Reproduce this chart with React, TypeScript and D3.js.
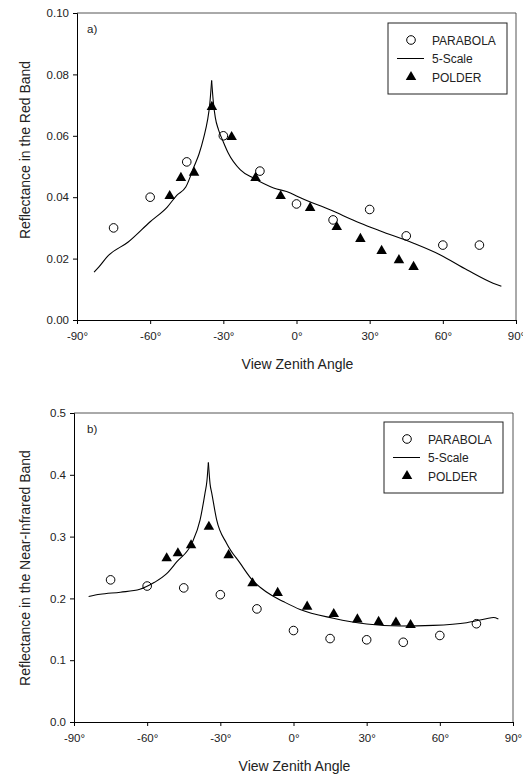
import React, { useRef, useEffect } from 'react'
import * as d3 from 'd3'

// view zenith angles (deg)
const parabolaAngles = [-75, -60, -45, -30, -15, 0, 15, 30, 45, 60, 75]
const polderAngles = [-52, -47.4, -42, -34.7, -26.6, -16.8, -6.5, 5.6, 16.5, 26.2, 34.9, 42, 48]

// a) red band
const redParabola = [0.030, 0.040, 0.0515, 0.060, 0.0485, 0.0378, 0.0326, 0.036, 0.0274, 0.0244, 0.0244]
const redPolder = [0.0404, 0.0463, 0.048, 0.0694, 0.0596, 0.0463, 0.0404, 0.0365, 0.0303, 0.0264, 0.0225, 0.0195, 0.0173]
const redModelAngles = [-83, -81, -77.4, -69, -60, -53, -49, -45.4, -42, -40, -38, -36.5, -35.6, -34.8, -34.1, -33.3, -32, -30, -28, -23, -17.6, -9.4, -2.5, 0, 14, 26, 34.4, 48, 59, 70, 80.6, 84]
const redModel = [0.0156, 0.0173, 0.0208, 0.0254, 0.032, 0.0368, 0.0407, 0.0433, 0.050, 0.054, 0.0596, 0.065, 0.070, 0.078, 0.071, 0.066, 0.062, 0.058, 0.0544, 0.0489, 0.0462, 0.043, 0.0414, 0.0404, 0.0358, 0.0316, 0.029, 0.025, 0.0212, 0.0163, 0.012, 0.011]

// b) near-infrared band
const nirParabola = [0.230, 0.220, 0.217, 0.206, 0.183, 0.148, 0.135, 0.133, 0.129, 0.140, 0.159]
const nirPolder = [0.265, 0.273, 0.286, 0.316, 0.270, 0.2244, 0.209, 0.1866, 0.1748, 0.166, 0.162, 0.161, 0.157]
const nirModelAngles = [-84, -79.3, -71, -63, -57, -52, -47.9, -41.7, -38.3, -36.3, -35.5, -34.9, -34.2, -33.5, -31.5, -27.4, -21.9, -16.5, -13.7, -9, -4.2, 2.7, 16.3, 30, 43.6, 57.3, 71, 79, 82, 84]
const nirModel = [0.203, 0.2066, 0.21, 0.2147, 0.226, 0.240, 0.259, 0.289, 0.327, 0.37, 0.39, 0.42, 0.385, 0.37, 0.327, 0.289, 0.257, 0.228, 0.218, 0.205, 0.195, 0.182, 0.168, 0.1586, 0.1553, 0.1564, 0.1607, 0.167, 0.169, 0.1667]

const xTicks = [-90, -60, -30, 0, 30, 60, 90]
const redTicks = [0, 0.02, 0.04, 0.06, 0.08, 0.1]
const nirTicks = [0, 0.1, 0.2, 0.3, 0.4, 0.5]
const legendLabels = ['PARABOLA', '5-Scale', 'POLDER']

const font = 'Arial, "Liberation Sans", sans-serif'

function App() {
  const svgRef = useRef(null)

  useEffect(() => {
    const svg = d3.select(svgRef.current)
    svg.selectAll('*').remove()

    const panels = [
      {
        tag: 'a)', title: 'Reflectance in the Red Band',
        x0: 77, x1: 516, yTop: 13, yBot: 320, ymax: 0.1, ticks: redTicks, fmt: d3.format('.2f'),
        parabola: redParabola, polder: redPolder, mAngles: redModelAngles, model: redModel,
        legend: { x: 388, y: 23 }, titleY: 150
      },
      {
        tag: 'b)', title: 'Reflectance in the Near-Infrared Band',
        x0: 74, x1: 513, yTop: 413, yBot: 722, ymax: 0.5, ticks: nirTicks, fmt: d3.format('.1f'),
        parabola: nirParabola, polder: nirPolder, mAngles: nirModelAngles, model: nirModel,
        legend: { x: 384, y: 422 }, titleY: 568
      }
    ]

    panels.forEach(p => {
      const x = d3.scaleLinear().domain([-90, 90]).range([p.x0, p.x1])
      const y = d3.scaleLinear().domain([0, p.ymax]).range([p.yBot, p.yTop])
      const g = svg.append('g').style('font-family', font)

      // frame (top / right)
      g.append('line').attr('x1', p.x0).attr('x2', p.x1).attr('y1', p.yTop).attr('y2', p.yTop)
        .attr('stroke', '#555').attr('stroke-width', 1)
      g.append('line').attr('x1', p.x1).attr('x2', p.x1).attr('y1', p.yTop).attr('y2', p.yBot)
        .attr('stroke', '#555').attr('stroke-width', 1)

      const xAxis = g.append('g').attr('transform', `translate(0,${p.yBot})`)
        .call(d3.axisBottom(x).tickValues(xTicks).tickSize(4).tickPadding(8).tickFormat(d => d + '°'))
      const yAxis = g.append('g').attr('transform', `translate(${p.x0},0)`)
        .call(d3.axisLeft(y).tickValues(p.ticks).tickSize(4).tickPadding(4).tickFormat(p.fmt))
      ;[xAxis, yAxis].forEach(a => {
        a.select('.domain').attr('stroke', '#000')
        a.selectAll('text').attr('font-size', 11.5).attr('font-family', font).attr('fill', '#222')
      })

      g.append('text')
        .attr('x', (p.x0 + p.x1) / 2 + 1)
        .attr('y', p.yBot + 49)
        .attr('text-anchor', 'middle')
        .attr('font-size', 14)
        .attr('fill', '#222')
        .text('View Zenith Angle')

      g.append('text')
        .attr('transform', `translate(30,${p.titleY}) rotate(-90)`)
        .attr('text-anchor', 'middle')
        .attr('font-size', 14)
        .attr('fill', '#222')
        .text(p.title)

      g.append('text')
        .attr('x', 87)
        .attr('y', p.yTop + 20)
        .attr('font-size', 11.5)
        .attr('fill', '#222')
        .text(p.tag)

      // model line, split at the hot-spot peak so the cusp stays sharp
      const pts = p.model.map((v, i) => [x(p.mAngles[i]), y(v)] as [number, number])
      const peak = d3.maxIndex(p.model)
      const lineGen = d3.line().curve(d3.curveMonotoneX)
      ;[pts.slice(0, peak + 1), pts.slice(peak)].forEach(seg => {
        g.append('path')
          .attr('d', lineGen(seg))
          .attr('fill', 'none')
          .attr('stroke', '#000')
          .attr('stroke-width', 1.1)
      })

      // parabola circles
      g.selectAll('circle.par')
        .data(p.parabola)
        .enter().append('circle')
        .attr('class', 'par')
        .attr('cx', (d, i) => x(parabolaAngles[i]))
        .attr('cy', d => y(d))
        .attr('r', 4.3)
        .attr('fill', 'none')
        .attr('stroke', '#000')
        .attr('stroke-width', 1)

      // polder triangles
      const tri = d3.symbol().type(d3.symbolTriangle).size(48)
      g.selectAll('path.pol')
        .data(p.polder)
        .enter().append('path')
        .attr('class', 'pol')
        .attr('d', tri)
        .attr('transform', (d, i) => `translate(${x(polderAngles[i])},${y(d)})`)
        .attr('fill', '#000')

      // legend
      const L = p.legend
      g.append('rect')
        .attr('x', L.x).attr('y', L.y)
        .attr('width', 119).attr('height', 71)
        .attr('fill', '#fff').attr('stroke', '#222').attr('stroke-width', 1)
      legendLabels.forEach((lab, i) => {
        const ly = L.y + 17 + i * 18.5
        if (i === 0) {
          g.append('circle').attr('cx', L.x + 23).attr('cy', ly).attr('r', 4.3)
            .attr('fill', 'none').attr('stroke', '#000')
        } else if (i === 1) {
          g.append('line').attr('x1', L.x + 9).attr('x2', L.x + 36).attr('y1', ly).attr('y2', ly)
            .attr('stroke', '#000').attr('stroke-width', 1)
        } else {
          g.append('path').attr('d', tri).attr('transform', `translate(${L.x + 23},${ly})`).attr('fill', '#000')
        }
        g.append('text')
          .attr('x', L.x + 44)
          .attr('y', ly + 4.5)
          .attr('font-size', 12)
          .attr('fill', '#222')
          .text(lab)
      })
    })
  }, [])

  return (
    <svg ref={svgRef} width={523} height={778}
      style={{ position: 'absolute', left: 0, top: 0, background: '#fff' }} />
  )
}

export default App
